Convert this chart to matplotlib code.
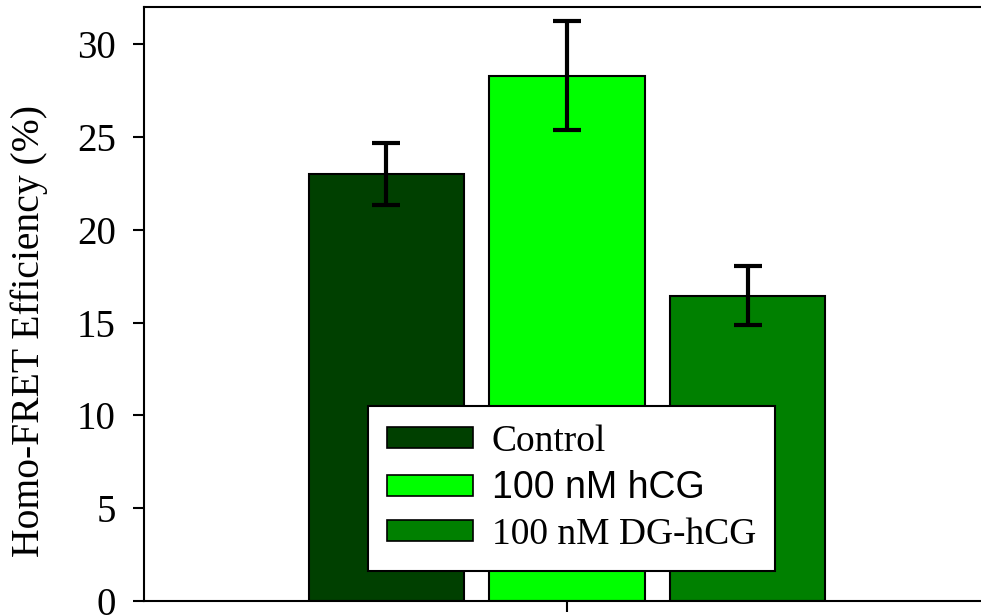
import matplotlib
matplotlib.use("Agg")
import matplotlib.pyplot as plt
from matplotlib.patches import Patch

groups = ["Control", "100 nM hCG", "100 nM DG-hCG"]
means = [23.0, 28.3, 16.45]
errors = [1.67, 2.93, 1.6]
colors = ["#004000", "#00ff00", "#008000"]
yticks = [0, 5, 10, 15, 20, 25, 30]

plt.rcParams["font.family"] = ["Liberation Serif", "DejaVu Serif"]

fig = plt.figure(figsize=(9.81, 6.16), dpi=100)
ax = fig.add_axes([0.1463, 0.0244, 0.8634, 0.9642])

xpos = [0, 1, 2]
ax.bar(xpos, means, width=0.86, color=colors, edgecolor="black", linewidth=1.5, zorder=2)
ax.errorbar(xpos, means, yerr=errors, fmt="none", ecolor="black", elinewidth=3,
            capsize=10, capthick=3, zorder=3)

ax.set_xlim(-1.346, 3.346)
ax.set_ylim(0, 32)
ax.set_yticks(yticks)
ax.set_xticks([1])
ax.set_xticklabels([""])
ax.tick_params(axis="both", direction="out", length=8, width=1.5, labelsize=28, pad=12)
for s in ax.spines.values():
    s.set_linewidth(1.5)

ax.set_ylabel("Homo-FRET Efficiency (%)", fontsize=28.5)
ax.yaxis.set_label_coords(-0.113, 0.4545)

handles = [Patch(facecolor=c, edgecolor="black", linewidth=1.2) for c in colors]
leg = ax.legend(handles, groups, loc="lower left", bbox_to_anchor=(0.265, 0.0505),
                fontsize=27, frameon=True, fancybox=False, framealpha=1,
                edgecolor="black", handlelength=2.3, handleheight=0.48,
                handletextpad=0.5, labelspacing=0.3, borderpad=0.5,
                borderaxespad=0)
leg.get_frame().set_linewidth(1.5)
leg.get_texts()[1].set_family(["Liberation Sans", "DejaVu Sans"])

fig.savefig("out.png", dpi=100)
